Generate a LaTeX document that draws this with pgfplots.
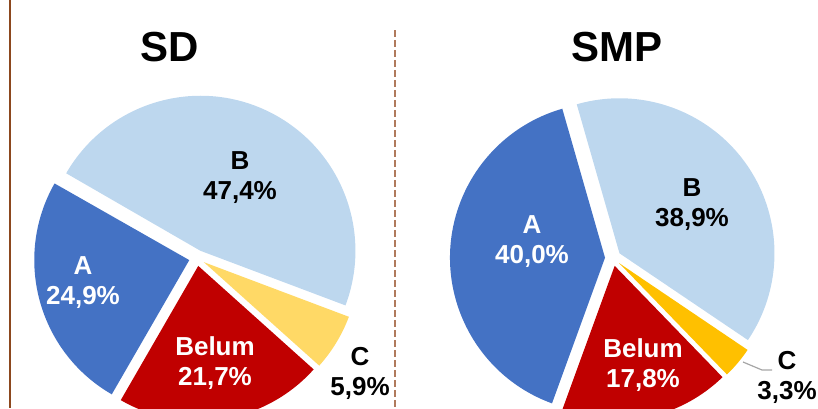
\documentclass[border=0pt]{standalone}
\usepackage{fontspec}
\setmainfont{Liberation Sans}
\usepackage{pgfplots}
\usepackage{pgfplotstable}
\pgfplotsset{compat=1.18}

\definecolor{cA}{HTML}{4472C4}
\definecolor{cB}{HTML}{BDD7EE}
\definecolor{cBelum}{HTML}{C00000}
\definecolor{cCsd}{HTML}{FFD966}
\definecolor{cCsmp}{HTML}{FFC000}
\definecolor{frame}{RGB}{140,72,30}
\definecolor{sep}{RGB}{176,122,92}

% slices in clockwise order, starting at the given angle
\pgfplotstableread{
label value col
B 47.4 cB
C 5.9 cCsd
Belum 21.7 cBelum
A 24.9 cA
}\sddata
\pgfplotstableread{
label value col
B 38.9 cB
C 3.3 cCsmp
Belum 17.8 cBelum
A 40.0 cA
}\smpdata

% #1 table, #2 #3 centre (axis units), #4 start angle
\newcommand\drawpie[4]{%
  \pgfplotstablegetrowsof{#1}%
  \pgfmathtruncatemacro\lastrow{\pgfplotsretval-1}%
  \pgfmathsetmacro\cur{#4}%
  \pgfplotsforeachungrouped \i in {0,...,\lastrow}{%
    \pgfplotstablegetelem{\i}{value}\of{#1}\let\val\pgfplotsretval
    \pgfplotstablegetelem{\i}{col}\of{#1}\let\col\pgfplotsretval
    \pgfmathsetmacro\nxt{\cur-3.6*\val}%
    \pgfmathsetmacro\midang{(\cur+\nxt)/2}%
    \edef\temp{\noexpand\fill[\col] ([shift={(\midang:4pt)}]axis cs:#2,#3) -- ++(\cur:77.5pt)
      arc[start angle=\cur, end angle=\nxt, radius=77.5pt] -- cycle;}%
    \temp
    \let\cur\nxt
  }%
}

\tikzset{lbl/.style={font=\bfseries\fontsize{13}{15}\selectfont, align=center, inner sep=0pt},
  ttl/.style={font=\bfseries\fontsize{21}{24}\selectfont, inner sep=0pt}}

\begin{document}
\begin{tikzpicture}
\begin{axis}[name=ax, x=0.5pt, y=0.5pt,
  xmin=0, xmax=818, ymin=0, ymax=408, y dir=reverse,
  hide axis, clip=true]
\drawpie{\sddata}{197}{258}{150}
\drawpie{\smpdata}{613}{258}{106}

\node[ttl] at (axis cs:170,47) {SD};
\node[ttl] at (axis cs:617,47) {SMP};

\node[lbl, black] at (axis cs:240,178) {B\\47,4\%};
\node[lbl, white] at (axis cs:83,283) {A\\24,9\%};
\node[lbl, white] at (axis cs:215,363) {Belum\\21,7\%};
\node[lbl, black] at (axis cs:360,373) {C\\5,9\%};

\node[lbl, black] at (axis cs:692,205) {B\\38,9\%};
\node[lbl, white] at (axis cs:532,242) {A\\40,0\%};
\node[lbl, white] at (axis cs:643,365) {Belum\\17,8\%};
\node[lbl, black] at (axis cs:787,377) {C\\3,3\%};
\draw[gray!70, line width=0.6pt] (axis cs:743,362) -- (axis cs:762,370) -- (axis cs:772,370);

\draw[frame, line width=1.3pt] (axis cs:10,0) -- (axis cs:10,408);
\draw[sep, line width=0.7pt, dash pattern=on 3.5pt off 1.5pt] (axis cs:395,30) -- (axis cs:395,408);
\end{axis}
\pgfresetboundingbox
\path[use as bounding box] (ax.south west) rectangle (ax.north east);
\end{tikzpicture}
\end{document}
